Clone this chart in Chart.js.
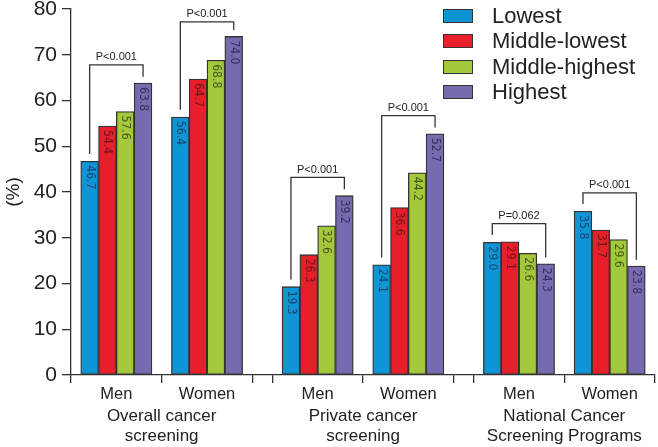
<!DOCTYPE html>
<html>
<head>
<meta charset="utf-8">
<script src="https://cdn.jsdelivr.net/npm/chart.js@4.4.0/dist/chart.umd.min.js"></script>
<style>
  body { margin: 0; background: #fff; }
  #wrap { position: relative; width: 658px; height: 447px; }
  #legend { position: absolute; left: 443px; top: 3px; font-family: 'Liberation Sans', Arial, sans-serif; font-size: 22px; color: #222; }
  .row { display: flex; align-items: center; height: 25.5px; }
  .box { width: 28px; height: 12px; border: 1.5px solid #333; margin-right: 19px; }
</style>
</head>
<body>
<div id="wrap">
  <canvas id="chart" width="658" height="447"></canvas>
  <div id="legend"></div>
</div>
<script>
// groups along the x axis
const groups = ['Men', 'Women', 'Men', 'Women', 'Men', 'Women'];
const sections = [['Overall cancer', 'screening'], ['Private cancer', 'screening'], ['National Cancer', 'Screening Programs']];
const seriesNames = ['Lowest', 'Middle-lowest', 'Middle-highest', 'Highest'];

// values in %
const lowest        = [46.7, 56.4, 19.3, 24.1, 29.0, 35.8];
const middleLowest  = [54.4, 64.7, 26.3, 36.6, 29.1, 31.7];
const middleHighest = [57.6, 68.8, 32.6, 44.2, 26.6, 29.6];
const highest       = [63.8, 74.0, 39.2, 52.7, 24.3, 23.8];

const pValues = ['P<0.001', 'P<0.001', 'P<0.001', 'P<0.001', 'P=0.062', 'P<0.001'];
const yTicks = [0, 10, 20, 30, 40, 50, 60, 70, 80];

const series = [lowest, middleLowest, middleHighest, highest];
const colors = ['#0f95d5', '#e61f2a', '#a4c83b', '#776bb0'];
const textColors = ['#17466f', '#6a161b', '#485719', '#352f63'];

// layout on a linear x scale: each group is 1 unit wide, sections separated by a gap
const GAP = 0.22;
const MAXX = 6 + 2 * GAP;
const groupCenter = i => i + 0.5 + Math.floor(i / 2) * GAP;
const centers = groups.map((g, i) => groupCenter(i));
const sectionCenters = sections.map((s, k) => k * (2 + GAP) + 1);
const isCenter = v => centers.some(c => Math.abs(c - v) < 1e-6);

const FONT = "'Liberation Sans', Arial, sans-serif";
const NARROW = "'Liberation Sans Narrow', 'DejaVu Sans Condensed', 'Liberation Sans', sans-serif";

const annotate = {
  id: 'annotate',
  afterDatasetsDraw(chart) {
    const ctx = chart.ctx;
    const y = chart.scales.y;
    // rotated value labels inside bars
    series.forEach((vals, k) => {
      chart.getDatasetMeta(k).data.forEach((bar, i) => {
        ctx.save();
        ctx.translate(bar.x, bar.y + 4);
        ctx.rotate(Math.PI / 2);
        ctx.font = '12px ' + NARROW;
        ctx.fillStyle = textColors[k];
        ctx.textAlign = 'left';
        ctx.textBaseline = 'middle';
        ctx.fillText(vals[i].toFixed(1), 0, 0);
        ctx.restore();
      });
    });
    // significance brackets
    pValues.forEach((p, i) => {
      const first = chart.getDatasetMeta(0).data[i];
      const last = chart.getDatasetMeta(3).data[i];
      const maxVal = Math.max(...series.map(s => s[i]));
      const top = y.getPixelForValue(Math.min(maxVal + 4, 77.2));
      const left = y.getPixelForValue(lowest[i] + 1.6);
      const right = y.getPixelForValue(highest[i] + 1.4);
      ctx.save();
      ctx.strokeStyle = '#333';
      ctx.lineWidth = 1.3;
      ctx.beginPath();
      ctx.moveTo(first.x, left);
      ctx.lineTo(first.x, top);
      ctx.lineTo(last.x, top);
      ctx.lineTo(last.x, right);
      ctx.stroke();
      ctx.font = '11px ' + FONT;
      ctx.fillStyle = '#222';
      ctx.textAlign = 'center';
      ctx.textBaseline = 'alphabetic';
      ctx.fillText(p, (first.x + last.x) / 2, top - 4.5);
      ctx.restore();
    });
  }
};

new Chart(document.getElementById('chart'), {
  type: 'bar',
  data: {
    datasets: series.map((vals, k) => ({
      label: seriesNames[k],
      data: vals.map((v, i) => ({ x: centers[i], y: v })),
      backgroundColor: colors[k],
      borderColor: '#333',
      borderWidth: 1.3,
      borderSkipped: false,
      barThickness: 17.8
    }))
  },
  options: {
    responsive: false,
    animation: false,
    devicePixelRatio: 1,
    layout: { padding: { top: 0, right: 3, left: 0, bottom: 0 } },
    plugins: { legend: { display: false }, tooltip: { enabled: false } },
    scales: {
      x: {
        type: 'linear',
        min: 0,
        max: MAXX,
        offset: false,
        weight: 0,
        afterBuildTicks: scale => {
          const vals = [];
          for (let s = 0; s < 3; s++) {
            const o = s * (2 + GAP);
            vals.push(o, o + 0.5, o + 1, o + 1.5, o + 2);
          }
          scale.ticks = vals.map(v => ({ value: v }));
        },
        afterFit: scale => {
          scale.height = 28;
          scale.paddingLeft = 0;
          scale.paddingRight = 0;
        },
        ticks: {
          autoSkip: false,
          maxRotation: 0,
          padding: 2,
          color: '#222',
          font: { family: FONT, size: 16.5 },
          callback: v => {
            const i = centers.findIndex(c => Math.abs(c - v) < 1e-6);
            return i >= 0 ? groups[i] : '';
          }
        },
        grid: {
          offset: false,
          drawOnChartArea: false,
          tickLength: 8,
          lineWidth: 1.3,
          color: ctx => (ctx.tick && isCenter(ctx.tick.value)) ? 'rgba(0,0,0,0)' : '#333'
        },
        border: { color: '#333', width: 1.3 }
      },
      x2: {
        type: 'linear',
        position: 'bottom',
        min: 0,
        max: MAXX,
        offset: false,
        weight: 1,
        afterBuildTicks: scale => { scale.ticks = sectionCenters.map(v => ({ value: v })); },
        afterFit: scale => {
          scale.height = 44;
          scale.paddingLeft = 0;
          scale.paddingRight = 0;
        },
        ticks: {
          autoSkip: false,
          maxRotation: 0,
          padding: 4,
          color: '#222',
          font: { family: FONT, size: 17, lineHeight: 1.13 },
          callback: (v, i) => sections[i]
        },
        grid: { display: false, drawTicks: false, offset: false },
        border: { display: false }
      },
      y: {
        min: 0,
        max: 80,
        afterBuildTicks: scale => { scale.ticks = yTicks.map(v => ({ value: v })); },
        afterFit: scale => {
          scale.width = 71;
          scale.paddingTop = 9;
          scale.paddingBottom = 0;
        },
        ticks: {
          padding: 5,
          color: '#222',
          font: { family: FONT, size: 21, lineHeight: 0.85 }
        },
        grid: { drawOnChartArea: false, tickLength: 9, color: '#333', lineWidth: 1.3 },
        border: { color: '#333', width: 1.3 },
        title: {
          display: true,
          text: '(%)',
          color: '#222',
          font: { family: FONT, size: 19 },
          padding: { top: 2, bottom: 0 }
        }
      }
    }
  },
  plugins: [annotate]
});

// legend
const legend = document.getElementById('legend');
seriesNames.forEach((name, k) => {
  const row = document.createElement('div');
  row.className = 'row';
  const box = document.createElement('div');
  box.className = 'box';
  box.style.background = colors[k];
  const label = document.createElement('span');
  label.textContent = name;
  row.appendChild(box);
  row.appendChild(label);
  legend.appendChild(row);
});
</script>
</body>
</html>
